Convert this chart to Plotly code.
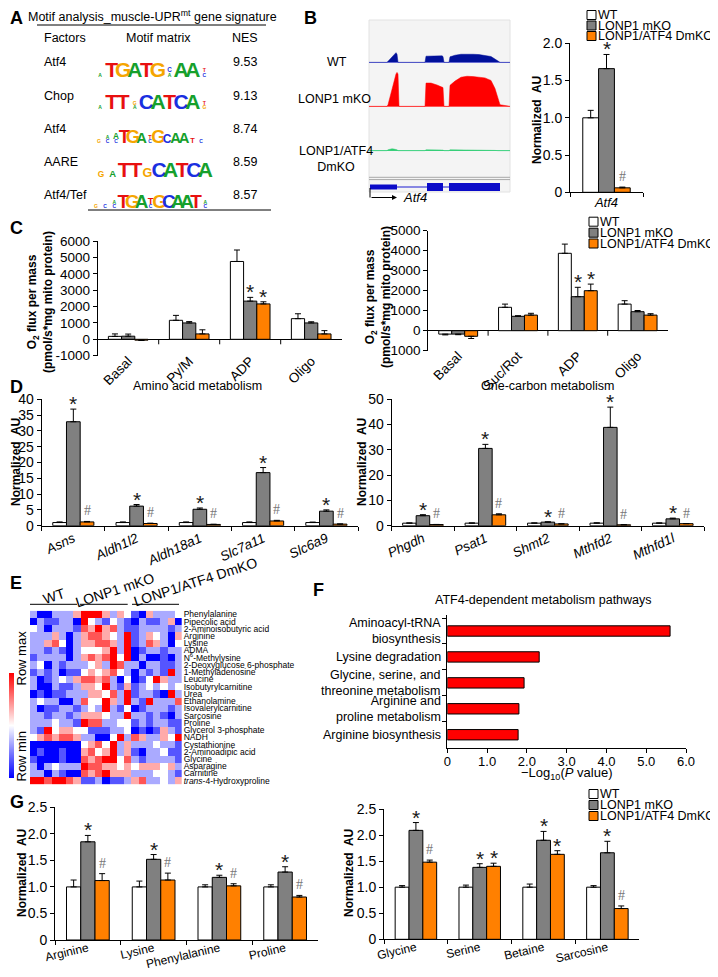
import plotly.graph_objects as go

# The page is shown with the browser's default 8 px body margin: the figure is sized to the
# visible area and every layout position below (given in screen pixels) is shifted by OFF.
OFF = 8
WF, HF = 718 - OFF, 977 - OFF
SANS = "Liberation Sans, Arial, Helvetica, sans-serif"
NARROW = "Liberation Sans Narrow, Arial Narrow, Liberation Sans, Arial, sans-serif"
SERIF = "Liberation Serif, Times New Roman, serif"

# ============================ DATA ============================
genotypes = ["WT", "LONP1 mKO", "LONP1/ATF4 DmKO"]
genotype_colors = ["#ffffff", "#808080", "#ff8000"]

# ---- A: motif analysis
motif_title = "Motif analysis_muscle-UPR<sup>mt</sup> gene signature"
motif_factors = ["Atf4", "Chop", "Atf4", "AARE", "Atf4/Tef"]
motif_nes = ["9.53", "9.13", "8.74", "8.59", "8.57"]
logo_atf4_a = [[("A", 0.3)], [("T", 2)], [("G", 2)], [("A", 2)], [("T", 2)], [("G", 2)],
               [("A", 0.2), ("C", 0.6)], [("A", 2)], [("A", 2)], [("C", 0.2), ("T", 0.5)]]
logo_chop = [[("A", 0.3)], [("T", 2)], [("T", 2)], [("A", 0.2), ("G", 0.4)], [("C", 2)], [("A", 2)],
             [("T", 2)], [("C", 2)], [("A", 2)], [("G", 0.2), ("T", 0.5)]]
logo_atf4_b = [[("G", 0.15)], [("C", 0.2), ("A", 0.2)], [("C", 0.2), ("A", 0.9)], [("T", 2)], [("G", 2)],
               [("A", 1.6)], [("C", 0.3), ("T", 0.6)], [("G", 2)], [("C", 1.3)], [("A", 1.6)], [("A", 1.6)],
               [("T", 0.8)], [("C", 0.3)]]
logo_aare = [[("G", 0.8)], [("A", 0.9)], [("T", 2)], [("T", 2)], [("G", 1.2)], [("C", 2)], [("A", 2)],
             [("T", 2)], [("C", 2)], [("A", 2)]]
logo_atf4_tef = [[("G", 0.3)], [("C", 0.3)], [("C", 0.2), ("A", 0.5)], [("T", 2)], [("G", 2)], [("A", 2)],
                 [("C", 0.4), ("T", 1.0)], [("G", 2)], [("C", 2)], [("A", 2)], [("A", 2)], [("T", 2)],
                 [("C", 0.2), ("A", 0.3)]]
motif_logos = [logo_atf4_a, logo_chop, logo_atf4_b, logo_aare, logo_atf4_tef]
base_colors = {"A": "#16a02c", "C": "#1a2fe0", "G": "#f5a500", "T": "#e81010"}

# ---- B: Atf4 coverage tracks and expression
track_pos = [0, 18, 19, 21, 23, 25, 27, 28, 29, 30, 55, 56, 57, 62, 68, 73, 74, 75, 79, 80, 81, 86, 92,
             98, 104, 110, 116, 122, 126, 129, 131, 141]
track_wt = [0, 0, 0.03, 0.1, 0.17, 0.24, 0.3, 0.25, 0, 0, 0, 0, 0.19, 0.2, 0.19, 0.2, 0.18, 0, 0, 0,
            0.17, 0.22, 0.25, 0.26, 0.25, 0.24, 0.22, 0.18, 0.1, 0.03, 0, 0]
track_mko = [0, 0, 0.05, 0.3, 0.55, 0.8, 1.0, 1.05, 1.0, 0, 0, 0, 0.72, 0.72, 0.66, 0.6, 0.58, 0, 0, 0,
             0.65, 0.78, 0.9, 0.93, 0.92, 0.9, 0.88, 0.8, 0.55, 0.25, 0.05, 0]
track_dmko = [0, 0, 0.03, 0.05, 0.06, 0.05, 0.04, 0.03, 0, 0, 0, 0, 0.03, 0.03, 0.03, 0.03, 0.02, 0, 0, 0,
              0.03, 0.03, 0.03, 0.03, 0.03, 0.03, 0.03, 0.02, 0.01, 0, 0, 0]
track_labels = ["WT", "LONP1 mKO", "LONP1/ATF4<br>DmKO"]
gene_exon_start = [1, 58, 80]
gene_exon_end = [28, 74, 131]
b_cats = ["Atf4"]
b_vals = [[1.0], [1.66], [0.06]]
b_errs = [[0.10], [0.19], [0.01]]
b_sig = [[""], ["*"], ["#"]]

# ---- C: respirometry
c1_cats = ["Basal", "Py/M", "ADP", "Oligo"]
c1_vals = [[180, 1160, 4750, 1260], [190, 1000, 2330, 1000], [-50, 330, 2160, 330]]
c1_errs = [[150, 300, 700, 300], [130, 80, 230, 70], [20, 250, 130, 200]]
c1_sig = [["", "", "", ""], ["", "", "*", ""], ["", "", "*", ""]]
c2_cats = ["Basal", "Suc/Rot", "ADP", "Oligo"]
c2_vals = [[-170, 1170, 3870, 1330], [-170, 720, 1700, 950], [-280, 780, 2000, 780]]
c2_errs = [[40, 160, 460, 170], [30, 30, 470, 60], [110, 90, 330, 70]]
c2_sig = [["", "", "", ""], ["", "", "*", ""], ["", "", "*", ""]]
c_ticks1 = [-1000, 0, 1000, 2000, 3000, 4000, 5000, 6000]
c_ticks2 = [-1000, 0, 1000, 2000, 3000, 4000, 5000]

# ---- D: qPCR
d1_cats = ["Asns", "Aldh1l2", "Aldh18a1", "Slc7a11", "Slc6a9"]
d1_vals = [[1, 1, 1, 1, 1], [32.9, 6.2, 5.2, 16.8, 4.6], [1.2, 0.7, 0.4, 1.5, 0.5]]
d1_errs = [[0.2, 0.2, 0.2, 0.2, 0.15], [4.0, 0.5, 0.4, 1.6, 0.4], [0.15, 0.1, 0.05, 0.2, 0.05]]
d1_sig = [[""] * 5, ["*"] * 5, ["#"] * 5]
d2_cats = ["Phgdh", "Psat1", "Shmt2", "Mthfd2", "Mthfd1l"]
d2_vals = [[1, 1, 1, 1, 1], [3.95, 30.5, 1.4, 38.8, 2.7], [0.45, 4.3, 0.7, 0.35, 0.8]]
d2_errs = [[0.1, 0.1, 0.1, 0.15, 0.1], [0.4, 1.6, 0.15, 8.0, 0.3], [0.05, 0.4, 0.05, 0.05, 0.05]]
d2_sig = [[""] * 5, ["*"] * 5, ["#"] * 5]
d_ticks1 = [0, 5, 10, 15, 20, 25, 30, 35, 40]
d_ticks2 = [0, 10, 20, 30, 40, 50]

# ---- E: metabolite heatmap (row-scaled)
hm_groups = ["WT", "LONP1 mKO", "LONP1/ATF4 DmKO"]
hm_names = ["Phenylalanine", "Pipecolic acid", "2-Aminoisobutyric acid", "Arginine", "Lysine", "ADMA",
            "N<sup>6</sup>-Methylysine", "2-Deoxyglucose 6-phosphate", "1-Methyladenosine", "Leucine",
            "Isobutyrylcarnitine", "Urea", "Ethanolamine", "Isovalerylcarnitine", "Sarcosine", "Proline",
            "Glycerol 3-phosphate", "NADH", "Cystathionine", "2-Aminoadipic acid", "Glycine", "Asparagine",
            "Carnitine", "<i>trans</i>-4-Hydroxyproline"]
hm_values = [
    [-1, -3, -3, -1, -1, -1, 1, 3, 3, 3, 1, -1, 1, 0, -2, -3, 1, -1, -1, -1, 0],
    [-3, -1, -2, -2, -1, -1, -3, 3, 0, -1, -2, 0, -1, -2, -3, -1, -2, -2, -1, 1, -3],
    [0, -1, -3, -1, -1, -1, -2, 2, 1, 3, 1, 2, -1, -2, -2, -1, -1, -1, -1, -2, -1],
    [-1, -1, -1, 1, -1, -3, -1, 1, 2, 2, 1, 0, -1, 3, -2, -1, 1, 0, -1, -3, 1],
    [-1, -1, 1, 2, 0, -3, -1, 1, 1, 2, 2, 1, -1, 3, -2, -1, 2, 1, -1, -3, 0],
    [-1, -1, -2, -1, -2, -3, -1, 0, 0, 0, 1, 3, -1, 3, -3, -2, -1, -1, -2, -1, -1],
    [-2, -1, -1, -1, -1, -3, -1, 1, 2, 1, 2, 3, 0, 3, -3, -1, -3, -3, -2, -3, -1],
    [-1, 0, -3, -1, -2, -1, -1, -1, 0, 1, -1, 3, 2, -1, -1, -3, -1, -1, -2, -2, -1],
    [-2, -1, -2, -1, -3, -2, -2, 0, 1, 0, 1, 2, 0, -1, -3, -1, -2, -1, -2, 3, -1],
    [-1, -3, -2, -1, 0, -1, 1, 2, 2, 1, 2, -1, -3, 0, -3, -2, 0, 3, 1, -1, -1],
    [-1, -3, -3, -1, -2, -2, -1, 1, 1, 0, 3, -1, -2, 1, -2, -1, 0, -1, 0, -1, 0],
    [-3, -2, -3, -2, -2, -1, -1, -1, 1, 1, 0, 2, -1, 3, -2, -1, -1, -2, -3, 3, -1],
    [-1, 0, -1, -1, -3, -3, -1, 2, 0, 0, 3, 1, -1, 3, -1, -2, 3, -1, -1, -1, 2],
    [-1, -3, -2, -2, -1, -1, -2, -1, 0, -1, 3, -1, -2, 0, -3, -2, -1, -1, -1, -2, -1],
    [-1, -1, -2, -1, -1, -2, -1, 1, 1, 1, 0, -1, -1, 3, -1, -1, -2, -1, -2, -3, -1],
    [-1, -1, -1, 0, -1, -1, -2, 3, 2, 2, -1, -1, 0, 0, -2, -1, -2, -1, -1, -2, -2],
    [-1, -2, 3, 0, 1, 1, 0, 0, -2, -2, -2, -1, -1, 0, -3, -2, -3, -2, 1, -1, -2],
    [0, 1, 2, 1, 2, 2, 1, -1, -1, -3, -3, 0, 3, -1, 2, 1, -1, -1, 1, 0, 3],
    [-3, -3, -3, -3, -3, -3, -3, 0, 1, 2, 0, 3, -1, 1, -1, -1, -1, 0, -1, -1, -2],
    [-3, -2, -3, -3, -2, -3, -3, 1, 2, 0, 1, 3, -1, 1, -2, -3, -1, -1, 0, -2, -2],
    [-2, -3, -3, -3, -2, -3, -3, 2, 1, 2, 3, 3, 0, 2, -1, -2, -1, -1, -1, -1, -2],
    [-1, -3, -1, 0, -1, -1, -1, 3, 2, 2, 1, 1, 0, 1, 0, 1, 1, 1, 0, 1, -1],
    [-1, -1, -3, -1, -2, -3, -3, 2, 1, 2, 3, 1, 1, 1, -1, -1, -1, 0, 0, -1, -2],
    [3, 3, 2, 3, 3, 2, 1, -2, -2, -1, -3, -2, -2, -1, 1, 2, -1, -1, 0, -1, 1],
]

# ---- F: pathway enrichment
path_names = ["Aminoacyl-tRNA<br>biosynthesis", "Lysine degradation", "Glycine, serine, and<br>threonine metabolism",
              "Arginine and<br>proline metabolism", "Arginine biosynthesis"]
path_vals = [5.6, 2.31, 1.93, 1.80, 1.78]
f_ticks = [0, 1, 2, 3, 4, 5, 6]
f_ticktext = ["0", "1.0", "2.0", "3.0", "4.0", "5.0", "6.0"]

# ---- G: metabolites
g1_cats = ["Arginine", "Lysine", "Phenylalanine", "Proline"]
g1_vals = [[1, 1, 1, 1], [1.85, 1.52, 1.18, 1.28], [1.12, 1.13, 1.02, 0.81]]
g1_errs = [[0.13, 0.11, 0.04, 0.04], [0.12, 0.09, 0.04, 0.10], [0.13, 0.13, 0.04, 0.03]]
g1_sig = [[""] * 4, ["*"] * 4, ["#"] * 4]
g2_cats = ["Glycine", "Serine", "Betaine", "Sarcosine"]
g2_vals = [[1, 1, 1, 1], [2.09, 1.38, 1.90, 1.66], [1.48, 1.40, 1.63, 0.59]]
g2_errs = [[0.03, 0.04, 0.06, 0.03], [0.15, 0.07, 0.17, 0.22], [0.04, 0.06, 0.07, 0.05]]
g2_sig = [[""] * 4, ["*"] * 4, ["#", "*", "*", "#"]]
g_ticks = [0, 0.5, 1.0, 1.5, 2.0, 2.5]
g_ticktext = ["0", "0.5", "1.0", "1.5", "2.0", "2.5"]

# ============================ FIGURE ============================
fig = go.Figure()
ann, shp, axes = [], [], {}
BARGAP = 0.35
BW = (1 - BARGAP) / 3


def px(x):
    return (x - OFF) / WF


def py(y):
    return 1 - (y - OFF) / HF


def suffix(n):
    return "" if n == 1 else str(n)


def text(x, y, s, size=13, color="black", xanchor="center", yanchor="middle", angle=0,
         family=SANS, bold=False, align="center"):
    ann.append(dict(x=px(x), y=py(y), xref="paper", yref="paper", text=s, showarrow=False,
                    xanchor=xanchor, yanchor=yanchor, textangle=angle, borderpad=0, align=align,
                    font=dict(family=family, size=size, color=color, weight="bold" if bold else "normal")))


def line(x0, y0, x1, y1, color="black", width=1):
    shp.append(dict(type="line", xref="paper", yref="paper", x0=px(x0), y0=py(y0), x1=px(x1), y1=py(y1),
                    line=dict(color=color, width=width)))


def legend(x, ys, size=12.5):
    for g, yc in enumerate(ys):
        shp.append(dict(type="rect", xref="paper", yref="paper", x0=px(x), x1=px(x + 9),
                        y0=py(yc + 4.5), y1=py(yc - 4.5), fillcolor=genotype_colors[g],
                        line=dict(color="black", width=1)))
        text(x + 10, yc, genotypes[g], size=size, xanchor="left")


def bar_panel(n, cats, vals, errs, sigs, xpx, ypx, yticks, yticktext, tfs, angle, italic, zero_axis=False,
              standoff=0, xfs=None):
    s = suffix(n)
    xa, ya = "x" + s, "y" + s
    for g in range(3):
        plus = [e if v >= 0 else 0 for v, e in zip(vals[g], errs[g])]
        minus = [0 if v >= 0 else e for v, e in zip(vals[g], errs[g])]
        fig.add_trace(go.Bar(x=cats, y=vals[g], name=genotypes[g], xaxis=xa, yaxis=ya,
                             marker=dict(color=genotype_colors[g], line=dict(color="black", width=1)),
                             error_y=dict(type="data", symmetric=False, array=plus, arrayminus=minus,
                                          color="black", thickness=1, width=3),
                             showlegend=False, hoverinfo="skip"))
    for g in (1, 2):
        off = (g - 1) * BW
        for j, sg in enumerate(sigs[g]):
            if not sg:
                continue
            top = vals[g][j] + errs[g][j] if vals[g][j] >= 0 else 0
            star = sg == "*"
            ann.append(dict(x=j + off, y=top, xref=xa, yref=ya, text=sg, showarrow=False,
                            xanchor="center", yanchor="bottom", yshift=-8 if star else 1,
                            font=dict(family=SANS if star else SERIF, size=21 if star else 14,
                                      color="#1a1a1a" if star else "#777777")))
    yrange = [yticks[0], yticks[-1]]
    axes["xaxis" + s] = dict(domain=[px(xpx[0]), px(xpx[1])], anchor=ya, type="category",
                             showline=not zero_axis, linecolor="black", linewidth=1,
                             ticks="" if zero_axis else "outside", tickson="boundaries", ticklen=4,
                             tickcolor="black", tickangle=angle, showgrid=False, zeroline=False,
                             ticklabelstandoff=standoff,
                             tickfont=dict(family=SANS, size=xfs or tfs, color="black",
                                           style="italic" if italic else "normal"))
    axes["yaxis" + s] = dict(domain=[py(ypx[1]), py(ypx[0])], anchor=xa, range=yrange,
                             tickvals=yticks, ticktext=yticktext, ticks="outside", ticklen=4,
                             tickcolor="black", showline=True, linecolor="black", linewidth=1,
                             showgrid=False, zeroline=zero_axis, zerolinecolor="black", zerolinewidth=1,
                             tickfont=dict(family=SANS, size=tfs, color="black"))
    if zero_axis:
        tick_units = (yrange[1] - yrange[0]) / (ypx[1] - ypx[0]) * 5
        for j in range(len(cats) - 1):
            shp.append(dict(type="line", xref=xa, yref=ya, x0=j + 0.5, x1=j + 0.5, y0=0, y1=-tick_units,
                            line=dict(color="black", width=1)))


def panel_letter(x, y, s):
    text(x, y, s, size=18, bold=True, xanchor="left")


# ---------------- A ----------------
panel_letter(8.5, 18, "A")
text(152, 16, motif_title, size=12.5)
line(37, 25, 266, 25)
text(43, 38, "Factors", size=12.5, xanchor="left")
text(158, 38, "Motif matrix", size=12.5)
text(231, 38, "NES", size=12.5, xanchor="left")
row_y = [62, 96, 129, 162, 195]
for r in range(5):
    text(43, row_y[r], motif_factors[r], size=12.5, xanchor="left")
    text(232, row_y[r], motif_nes[r], size=12.5, xanchor="left")
line(88, 210, 271, 210)

logo_start = [100, 100, 99, 101, 96]
logo_step = [11.6, 11.6, 8.5, 11.6, 9.1]
logo_base = [76.5, 109, 143, 177, 208]
PX_PER_BIT = 10.5
lx, ly, lt, ls, lc = [], [], [], [], []
for r, logo in enumerate(motif_logos):
    scale = PX_PER_BIT * (0.55 + 0.45 * logo_step[r] / 11.6)
    for c, col in enumerate(logo):
        yb = logo_base[r]
        for letter, bits in col:
            fs = max(5.0, scale * bits)
            lx.append(logo_start[r] + c * logo_step[r])
            ly.append(yb - 0.25 * fs)
            lt.append(letter)
            ls.append(fs)
            lc.append(base_colors[letter])
            yb -= 0.716 * fs + 0.5
fig.add_trace(go.Scatter(x=lx, y=ly, text=lt, mode="text", textposition="middle center",
                         textfont=dict(family=NARROW, size=ls, color=lc, weight="bold"),
                         xaxis="x10", yaxis="y10", showlegend=False, hoverinfo="skip"))
axes["xaxis10"] = dict(domain=[px(OFF), px(300)], range=[OFF, 300], visible=False, anchor="y10")
axes["yaxis10"] = dict(domain=[py(215), py(OFF)], range=[215, OFF], visible=False, anchor="x10")

# ---------------- B ----------------
panel_letter(303, 18, "B")
shp.append(dict(type="rect", xref="paper", yref="paper", x0=px(369), x1=px(510), y0=py(192), y1=py(20),
                fillcolor="#f4f4f4", line=dict(color="#e2e2e2", width=1), layer="below"))
track_fill = ["#00109a", "#ff0000", "#2ecc71"]
track_base = ["#8a8ae6", "#ff7070", "#5fd99a"]
track_tops = [20.3, 64.3, 108.7]
for t, vals in enumerate([track_wt, track_mko, track_dmko]):
    n = 11 + t
    fig.add_trace(go.Scatter(x=track_pos, y=vals, mode="lines", fill="tozeroy",
                             line=dict(color=track_fill[t], width=0.5), fillcolor=track_fill[t],
                             xaxis="x%d" % n, yaxis="y%d" % n, showlegend=False, hoverinfo="skip"))
    axes["xaxis%d" % n] = dict(domain=[px(369), px(510)], range=[0, 141], visible=False, anchor="y%d" % n)
    axes["yaxis%d" % n] = dict(domain=[py(track_tops[t] + 43), py(track_tops[t])], range=[-0.03, 1.3],
                               anchor="x%d" % n, showgrid=False, showline=False, ticks="",
                               showticklabels=False, zeroline=True, zerolinecolor=track_base[t],
                               zerolinewidth=1)
text(337, 62, track_labels[0], size=12.5)
text(334, 99, track_labels[1], size=12.5)
text(336, 159, track_labels[2], size=12.5)
line(369, 177.3, 510, 177.3, color="#a8a8a8")
line(369, 179.6, 510, 179.6, color="#a8a8a8")
# gene model
fig.add_trace(go.Scatter(x=[gene_exon_start[0], gene_exon_end[-1]], y=[0.5, 0.5], mode="lines",
                         line=dict(color="#1a1ad0", width=1), xaxis="x14", yaxis="y14",
                         showlegend=False, hoverinfo="skip"))
for k in range(len(gene_exon_start)):
    fig.add_trace(go.Scatter(x=[gene_exon_start[k], gene_exon_end[k]], y=[0.5, 0.5], mode="lines",
                             line=dict(color="#0a0ac8", width=5 if k == 0 else 8), xaxis="x14", yaxis="y14",
                             showlegend=False, hoverinfo="skip"))
axes["xaxis14"] = dict(domain=[px(369), px(510)], range=[0, 141], visible=False, anchor="y14")
axes["yaxis14"] = dict(domain=[py(193), py(181)], range=[0, 1], visible=False, anchor="x14")
line(370, 188, 370, 197.5)
ann.append(dict(x=px(397), y=py(197.5), ax=-27, ay=0, xref="paper", yref="paper",
                axref="pixel", ayref="pixel", text="", showarrow=True, arrowhead=2, arrowsize=1,
                arrowwidth=1, arrowcolor="black"))
text(402, 198, "<i>Atf4</i>", size=13, xanchor="left")

bar_panel(1, b_cats, b_vals, b_errs, b_sig, (570, 643), (43.3, 192.3), [0, 0.5, 1.0, 1.5, 2.0],
          ["0", "0.5", "1.0", "1.5", "2.0"], 14, 0, True, standoff=-2, xfs=13)
text(537, 120, "Normalized\u00a0 AU", size=12, angle=-90, bold=True)
legend(587, [15, 25.5, 36])

# ---------------- C ----------------
panel_letter(8.5, 228, "C")
bar_panel(2, c1_cats, c1_vals, c1_errs, c1_sig, (97.7, 341.7), (241, 355.7), c_ticks1,
          [str(v) for v in c_ticks1], 13.5, -45, False, zero_axis=True, standoff=-6)
bar_panel(3, c2_cats, c2_vals, c2_errs, c2_sig, (428.3, 667.5), (230.7, 350.7), c_ticks2,
          [str(v) for v in c_ticks2], 13.5, -45, False, zero_axis=True, standoff=-6)
c_title = "O<sub>2</sub> flux per mass<br>(pmol/s*mg mito protein)"
text(40, 302, c_title, size=12, angle=-90, bold=True)
text(378, 297, c_title, size=12, angle=-90, bold=True)
legend(589, [221.7, 232.7, 243.5])

# ---------------- D ----------------
panel_letter(8.5, 387, "D")
text(198, 386, "Amino acid metabolism", size=12.5)
text(547, 386, "One-carbon metabolism", size=12.5)
bar_panel(4, d1_cats, d1_vals, d1_errs, d1_sig, (41.7, 358), (399.3, 525.7), d_ticks1,
          [str(v) for v in d_ticks1], 14, -25, True, standoff=-1, xfs=13.5)
bar_panel(5, d2_cats, d2_vals, d2_errs, d2_sig, (391.7, 704), (399, 525.7), d_ticks2,
          [str(v) for v in d_ticks2], 14, -25, True, standoff=-1, xfs=13.5)
text(16, 462, "Normalized\u00a0 AU", size=12, angle=-90, bold=True)
text(362, 462, "Normalized\u00a0 AU", size=12, angle=-90, bold=True)

# ---------------- E ----------------
panel_letter(8.5, 583, "E")
fig.add_trace(go.Heatmap(z=hm_values, x=list(range(len(hm_values[0]))), y=list(range(len(hm_names))),
                         colorscale=[[0, "#0000ff"], [0.5, "#ffffff"], [1, "#ff0000"]], zmin=-3, zmax=3,
                         xaxis="x6", yaxis="y6", hoverinfo="skip",
                         colorbar=dict(x=px(9), xanchor="left", y=py(673), yanchor="top", len=105,
                                       lenmode="pixels", thickness=5, thicknessmode="pixels",
                                       showticklabels=False, ticks="", outlinewidth=0, xpad=0, ypad=0)))
axes["xaxis6"] = dict(domain=[px(30), px(181.7)], anchor="y6", showticklabels=False, ticks="",
                      showgrid=False, zeroline=False, showline=False)
axes["yaxis6"] = dict(domain=[py(784.3), py(610.7)], anchor="x6", autorange="reversed", side="right",
                      tickvals=list(range(len(hm_names))), ticktext=hm_names, ticks="",
                      tickfont=dict(family=SANS, size=8.5, color="black"), showgrid=False, zeroline=False,
                      showline=False, ticklabelstandoff=1)
group_cx = [54, 115, 195]
group_cy = [596, 590, 582]
for g in range(3):
    text(group_cx[g], group_cy[g], hm_groups[g], size=14, angle=-18)
line(30, 604.3, 77, 604.3)
line(80, 604.3, 127.7, 604.3)
line(132, 604.3, 179, 604.3)
text(20.5, 658, "Row max", size=13, angle=-90)
text(20.5, 756, "Row min", size=13, angle=-90)

# ---------------- F ----------------
text(318, 590, "F", size=18, bold=True)
text(543, 600, "ATF4-dependent metabolism pathways", size=12.5)
fig.add_trace(go.Bar(x=path_vals, y=path_names, orientation="h", width=0.4,
                     marker=dict(color="#ff0000", line=dict(color="black", width=1)),
                     xaxis="x7", yaxis="y7", showlegend=False, hoverinfo="skip"))
axes["xaxis7"] = dict(domain=[px(447.3), px(686)], anchor="y7", range=[0, 6], tickvals=f_ticks,
                      ticktext=f_ticktext, ticks="outside", ticklen=4, tickcolor="black", showline=True,
                      linecolor="black", showgrid=False, zeroline=False, ticklabelstandoff=-2,
                      tickfont=dict(family=SANS, size=13, color="black"))
axes["yaxis7"] = dict(domain=[py(747.7), py(615)], anchor="x7", type="category", autorange="reversed",
                      ticks="outside", tickson="boundaries", ticklen=4, tickcolor="black", showline=True,
                      linecolor="black", showgrid=False, zeroline=False, showticklabels=False)
for i, name in enumerate(path_names):
    ann.append(dict(x=px(442), y=i, xref="paper", yref="y7", text=name, showarrow=False,
                    xanchor="right", yanchor="middle", align="right", borderpad=0,
                    font=dict(family=SANS, size=12.5, color="black")))
text(566, 773, "\u2212Log<sub>10</sub>(<i>P</i> value)", size=13)

# ---------------- G ----------------
panel_letter(8.5, 802, "G")
bar_panel(8, g1_cats, g1_vals, g1_errs, g1_sig, (55, 318), (807.3, 940), g_ticks, g_ticktext, 14, -13, False,
          standoff=-4, xfs=12)
bar_panel(9, g2_cats, g2_vals, g2_errs, g2_sig, (384, 639.3), (809, 939.3), g_ticks, g_ticktext, 14, -13, False,
          standoff=-4, xfs=12)
text(22, 873, "Normalized\u00a0 AU", size=12, angle=-90, bold=True)
text(349, 873, "Normalized\u00a0 AU", size=12, angle=-90, bold=True)
legend(589, [794, 805, 816])

fig.update_layout(width=WF, height=HF, margin=dict(l=0, r=0, t=0, b=0, pad=0, autoexpand=False),
                  paper_bgcolor="white", plot_bgcolor="rgba(0,0,0,0)", barmode="group", bargap=BARGAP,
                  bargroupgap=0, showlegend=False, font=dict(family=SANS, color="black"),
                  annotations=ann, shapes=shp, **axes)
fig.write_html("out.html")
